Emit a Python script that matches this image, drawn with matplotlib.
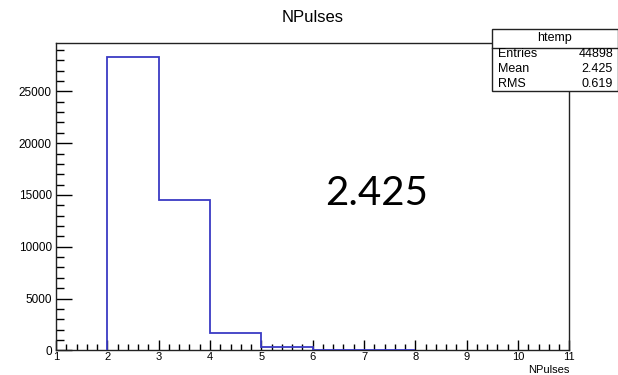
import numpy as np
import matplotlib.pyplot as plt
from matplotlib.patches import Rectangle
from matplotlib.lines import Line2D
from matplotlib.ticker import MultipleLocator

plt.rcParams['font.family'] = ['Liberation Sans', 'DejaVu Sans']

# NPulses histogram contents, one entry per unit bin starting at 2
bin_edges = [2, 3, 4, 5, 6, 7, 8]
counts = [28290, 14500, 1700, 320, 60, 20]

stat_names = ['Entries', 'Mean', 'RMS']
stat_values = ['44898', '2.425', '0.619']
hist_name = 'htemp'
mean_label = '2.425'

W, H = 618, 375
fig = plt.figure(figsize=(W / 100, H / 100), dpi=100)

# pad frame in pixel units
left, right, top, bottom = 56, 569.3, 42.7, 350.3
ax = fig.add_axes([left / W, 1 - bottom / H, (right - left) / W, (bottom - top) / H])

ax.stairs(counts, bin_edges, color='#3a3ac4', lw=1.3, zorder=3)

ax.set_xlim(1, 11)
ax.set_ylim(0, 1.05 * max(counts))

ax.xaxis.set_major_locator(MultipleLocator(1))
ax.xaxis.set_minor_locator(MultipleLocator(0.2))
ax.yaxis.set_major_locator(MultipleLocator(5000))
ax.yaxis.set_minor_locator(MultipleLocator(1000))

ax.tick_params(axis='x', which='major', direction='in', length=7, width=1,
               labelsize=8, pad=1.5, top=False)
ax.tick_params(axis='x', which='minor', direction='in', length=4, width=1, top=False)
ax.tick_params(axis='y', which='major', direction='in', length=11.5, width=1,
               labelsize=8.5, pad=3, right=False)
ax.tick_params(axis='y', which='minor', direction='in', length=5.8, width=1, right=False)

for s in ax.spines.values():
    s.set_linewidth(1.0)
    s.set_color('#222222')

fig.text(313 / W, 1 - 17 / H, 'NPulses', ha='center', va='center', fontsize=12)
fig.text(569.5 / W, 0.0, 'NPulses', ha='right', va='bottom', fontsize=8)

# big annotation of the mean
fig.text(377 / W, 1 - 193 / H, mean_label, ha='center', va='center',
         fontsize=29, family=['Lato', 'DejaVu Sans'])

# statistics box
bx0, bx1, by0, by1, hdr = 492.3, 617.5, 29.3, 91, 48
fig.patches.append(Rectangle((bx0 / W, 1 - by1 / H), (bx1 - bx0) / W, (by1 - by0) / H,
                             transform=fig.transFigure, facecolor='white',
                             edgecolor='#222222', lw=1.0, zorder=5))
fig.lines.append(Line2D([bx0 / W, bx1 / W], [1 - hdr / H, 1 - hdr / H],
                        transform=fig.transFigure, color='#222222', lw=1.0, zorder=6))
fig.text((bx0 + bx1) / 2 / W, 1 - 38.5 / H, hist_name, ha='center', va='center',
         fontsize=9, zorder=7)
for i, (name, val) in enumerate(zip(stat_names, stat_values)):
    yy = 1 - (54 + i * 15) / H
    fig.text(498 / W, yy, name, ha='left', va='center', fontsize=9, zorder=7)
    fig.text(613 / W, yy, val, ha='right', va='center', fontsize=9, zorder=7)

fig.savefig('out.png', dpi=100)
